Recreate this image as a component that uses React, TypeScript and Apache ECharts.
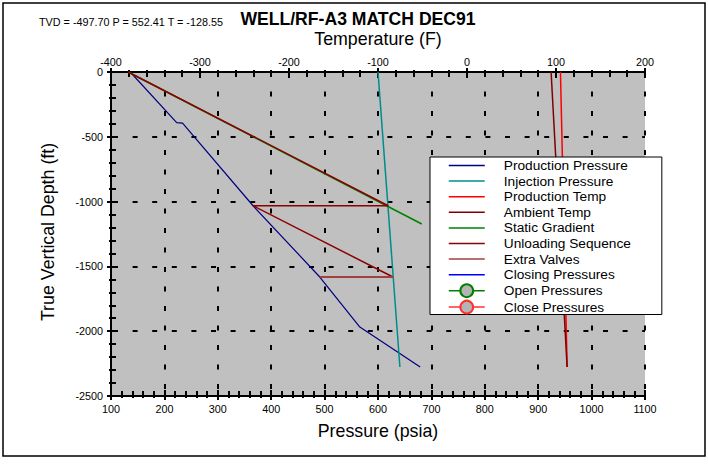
import React, { useEffect, useRef } from 'react';
import * as echarts from 'echarts';

const FONT = '"Liberation Sans", Arial, Helvetica, sans-serif';

// ---- data (pressure psia / temperature F vs depth ft) ----
const prodPressureP = [136, 223, 234, 366, 491, 566, 679];
const prodPressureD = [0, -390, -395, -1032, -1582, -1968, -2276];

const injectionP = [600, 641];
const injectionD = [0, -2276];

const prodTempT = [105, 112.5];
const prodTempD = [0, -2276];

const ambientTempT = [94.5, 112.5];
const ambientTempD = [0, -2276];

const staticP = [132, 682];
const staticD = [0, -1173];

const unloadingP = [132, 619, 366, 628];
const unloadingD = [0, -1032, -1032, -1582];

const extraValvesP = [628, 491];
const extraValvesD = [-1582, -1582];

const lineOnlyNames = [
  'Production Pressure',
  'Injection Pressure',
  'Production Temp',
  'Ambient Temp',
  'Static Gradient',
  'Unloading Sequence',
  'Extra Valves',
  'Closing Pressures',
];
const markerNames = ['Open Pressures', 'Close Pressures'];

const headerText = 'TVD = -497.70 P = 552.41 T = -128.55';
const titleText = 'WELL/RF-A3 MATCH DEC91';

const zip = (a: number[], b: number[]) => a.map((v, i) => [v, b[i]]);

function lineSeries(name: string, data: number[][], color: string, width: number, xAxisIndex = 0, extra: any = {}) {
  return {
    name,
    type: 'line',
    xAxisIndex,
    yAxisIndex: 0,
    data,
    symbol: 'none',
    silent: true,
    lineStyle: { color, width },
    itemStyle: { color },
    ...extra,
  };
}

export default function App() {
  const ref = useRef<HTMLDivElement>(null);

  useEffect(() => {
    if (!ref.current) return;
    const chart = echarts.init(ref.current, undefined, { renderer: 'svg' });

    const tickStyle = { color: '#000', width: 2 };
    const plain = (v: number) => String(v);
    const mainAxis = (o: any) => ({
      type: 'value',
      axisLine: { show: true, onZero: false, lineStyle: { color: '#000', width: 2 } },
      axisTick: { show: true, inside: false, length: 4, lineStyle: tickStyle },
      minorTick: { show: true, splitNumber: 5, length: 2, lineStyle: tickStyle },
      minorSplitLine: { show: false },
      ...o,
    });
    const innerAxis = (o: any) => ({
      type: 'value',
      axisLine: { show: false, onZero: false },
      axisTick: { show: true, inside: true, length: 6, lineStyle: tickStyle },
      minorTick: { show: true, splitNumber: 5, length: 5, lineStyle: tickStyle },
      axisLabel: { show: false },
      splitLine: { show: false },
      ...o,
    });
    const label = (margin: number) => ({ color: '#000', fontSize: 10.8, fontFamily: FONT, margin, formatter: plain });

    const option: any = {
      animation: false,
      backgroundColor: '#fff',
      grid: {
        left: 111,
        top: 72,
        width: 534,
        height: 324,
        show: true,
        backgroundColor: '#c0c0c0',
        borderWidth: 0,
      },
      xAxis: [
        mainAxis({
          position: 'bottom',
          min: 100,
          max: 1100,
          interval: 100,
          axisLabel: label(7),
          splitLine: { show: true, lineStyle: { color: '#000', width: 2, type: [5, 14.5] } },
        }),
        mainAxis({
          position: 'top',
          min: -400,
          max: 200,
          interval: 100,
          axisLabel: label(5),
          splitLine: { show: false },
        }),
        innerAxis({ position: 'bottom', min: 100, max: 1100, interval: 100 }),
        innerAxis({ position: 'top', min: -400, max: 200, interval: 100 }),
      ],
      yAxis: [
        mainAxis({
          position: 'left',
          min: -2500,
          max: 0,
          interval: 500,
          axisLabel: label(8),
          splitLine: { show: true, lineStyle: { color: '#000', width: 2, type: [5, 14.6], dashOffset: -1.7 } },
        }),
        innerAxis({ position: 'left', min: -2500, max: 0, interval: 500 }),
      ],
      legend: {
        data: [
          ...lineOnlyNames.map((name) => ({
            name,
            itemStyle: { color: 'rgba(0,0,0,0)', borderColor: 'rgba(0,0,0,0)', borderWidth: 0, opacity: 0 },
          })),
          ...markerNames.map((name) => ({ name })),
        ],
        orient: 'vertical',
        left: 430,
        top: 157,
        selectedMode: false,
        backgroundColor: '#fff',
        borderColor: '#000',
        borderWidth: 1,
        padding: [1.5, 31, 0, 18],
        itemWidth: 36,
        itemHeight: 16,
        itemGap: 1.6,
        lineStyle: { width: 1.5 },
        textStyle: { color: '#000', fontSize: 13.7, fontFamily: FONT, padding: [0, 0, 0, 14] },
      },
      series: [
        lineSeries('Production Pressure', zip(prodPressureP, prodPressureD), '#000080', 1.2),
        lineSeries('Injection Pressure', zip(injectionP, injectionD), '#008c8c', 1.5),
        lineSeries('Production Temp', zip(prodTempT, prodTempD), '#ff0000', 1.5, 1),
        lineSeries('Ambient Temp', zip(ambientTempT, ambientTempD), '#800000', 1.5, 1),
        lineSeries('Static Gradient', zip(staticP, staticD), '#008000', 1.5),
        lineSeries('Unloading Sequence', zip(unloadingP, unloadingD), '#8b0000', 1.5),
        lineSeries('Extra Valves', zip(extraValvesP, extraValvesD), '#a04040', 2),
        lineSeries('Closing Pressures', [], '#0000ff', 1.5),
        lineSeries('Open Pressures', [], '#008000', 1.5, 0, {
          symbol: 'circle',
          symbolSize: 12,
          itemStyle: { color: '#b4b4b4', borderColor: '#008000', borderWidth: 1.5 },
        }),
        lineSeries('Close Pressures', [], '#ff3030', 1.5, 0, {
          symbol: 'circle',
          symbolSize: 12,
          itemStyle: { color: '#b4b4b4', borderColor: '#ff3030', borderWidth: 1.5 },
        }),
      ],
      graphic: [
        {
          type: 'rect',
          silent: true,
          z: 100,
          shape: { x: 3, y: 3, width: 702, height: 453 },
          style: { fill: 'none', stroke: '#000', lineWidth: 1.5 },
        },
        {
          type: 'text',
          x: 39,
          y: 22,
          z: 100,
          style: { text: headerText, fill: '#000', fontSize: 10.8, fontFamily: FONT, align: 'left', verticalAlign: 'middle' },
        },
        {
          type: 'text',
          x: 358,
          y: 19,
          z: 100,
          style: { text: titleText, fill: '#000', fontSize: 17.6, fontWeight: 'bold', fontFamily: FONT, align: 'center', verticalAlign: 'middle' },
        },
        {
          type: 'text',
          x: 378,
          y: 39,
          z: 100,
          style: { text: 'Temperature (F)', fill: '#000', fontSize: 17.8, fontFamily: FONT, align: 'center', verticalAlign: 'middle' },
        },
        {
          type: 'text',
          x: 378,
          y: 431,
          z: 100,
          style: { text: 'Pressure (psia)', fill: '#000', fontSize: 17.8, fontFamily: FONT, align: 'center', verticalAlign: 'middle' },
        },
        {
          type: 'text',
          x: 48,
          y: 232,
          rotation: Math.PI / 2,
          z: 100,
          style: { text: 'True Vertical Depth (ft)', fill: '#000', fontSize: 17.8, fontFamily: FONT, align: 'center', verticalAlign: 'middle' },
        },
      ],
    };

    chart.setOption(option);
    return () => chart.dispose();
  }, []);

  return <div ref={ref} style={{ position: 'absolute', left: 0, top: 0, width: 708, height: 466 }} />;
}
